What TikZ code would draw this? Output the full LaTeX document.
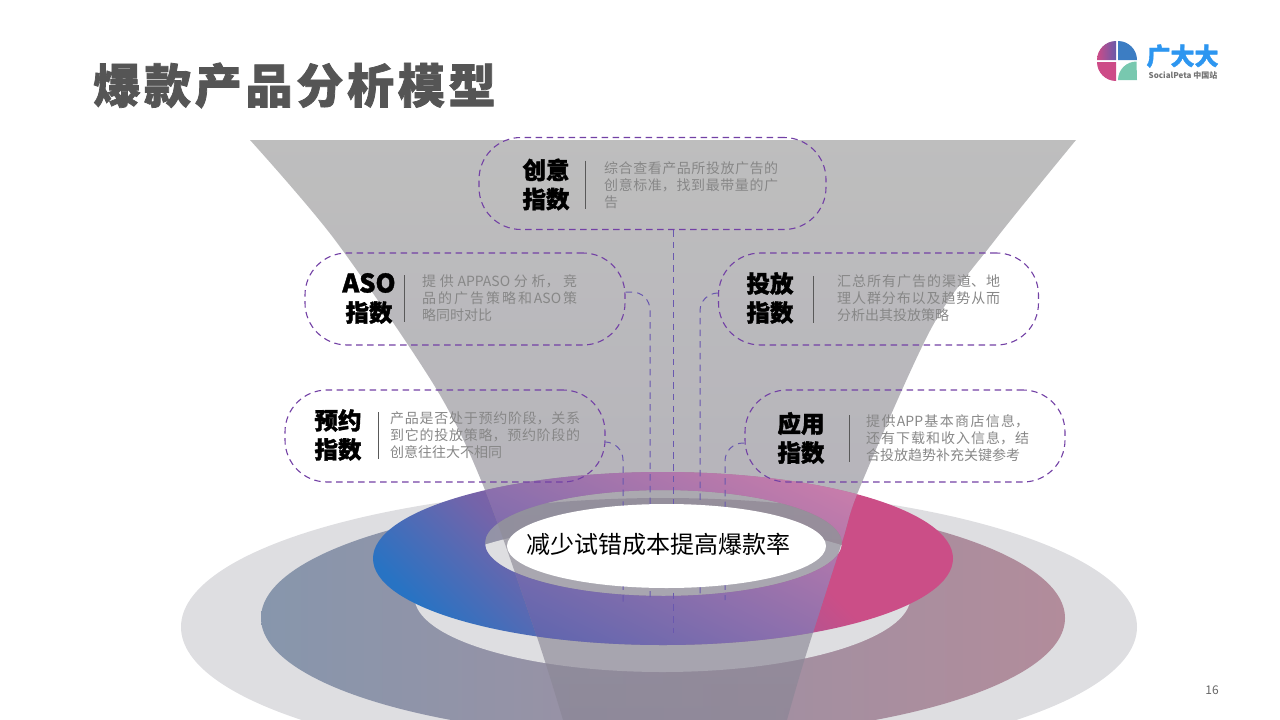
\documentclass[tikz,border=0pt]{standalone}
\usepackage{fontspec}
\setmainfont{Noto Sans CJK SC}
\newfontfamily\heavyfont[FakeBold=1.5]{Noto Sans CJK SC}
\newfontfamily\titlefont[FakeBold=1.6,LetterSpace=8]{Noto Sans CJK SC}
\XeTeXlinebreaklocale "zh"
\XeTeXlinebreakskip=0pt plus 3pt
\usetikzlibrary{calc,shapes.geometric,positioning}
\definecolor{ringgray}{RGB}{222,222,225}
\definecolor{pillline}{RGB}{115,65,165}
\definecolor{bodygray}{RGB}{135,135,135}
\definecolor{dashblue}{RGB}{105,88,175}
\definecolor{midleft}{RGB}{135,150,172}
\definecolor{midright}{RGB}{178,140,155}
\definecolor{donutblue}{RGB}{40,115,195}
\definecolor{donutmid}{RGB}{115,100,170}
\definecolor{donutpink}{RGB}{203,78,135}
\definecolor{veillow}{RGB}{65,95,175}
\definecolor{veilhigh}{RGB}{225,130,170}
\definecolor{funneltop}{RGB}{158,158,158}
\definecolor{funnelbot}{RGB}{138,134,150}
\definecolor{titlegray}{RGB}{85,85,85}
\definecolor{logopink}{RGB}{205,75,135}
\definecolor{logopurple}{RGB}{105,90,170}
\definecolor{logoblue}{RGB}{60,125,195}
\definecolor{logoteal}{RGB}{120,200,175}
\definecolor{logotext}{RGB}{45,150,240}
\pgfdeclarehorizontalshading{donutfill}{100bp}{color(0bp)=(donutblue); color(37bp)=(donutblue); color(44bp)=(donutmid); color(56bp)=(donutpink); color(100bp)=(donutpink)}
\pgfdeclarehorizontalshading{veilfill}{100bp}{color(0bp)=(veillow); color(37bp)=(veillow); color(63bp)=(veilhigh); color(100bp)=(veilhigh)}
\newcommand{\funnelshape}{plot[smooth] coordinates {(250,140) (335,240) (437,390) (485,490) (537,637) (563,720)}
	-- plot[smooth] coordinates {(787,720) (805,658) (842,542) (860,487) (932,327) (995,240) (1076,140)} -- cycle}
\newcommand{\donutshape}{(663,558.5) ellipse [x radius=290, y radius=86.5] (663.5,543) ellipse [x radius=178.5, y radius=53]}
\tikzset{
	pill/.style={draw=pillline, line width=1.1pt, dash pattern=on 6.5pt off 4.5pt,
		rounded corners=42pt, minimum width=320pt, minimum height=92pt, inner sep=0pt},
	headtext/.style={align=center, inner sep=0pt, text=black,
		font=\heavyfont\bfseries\fontsize{23.5pt}{29pt}\selectfont},
	bodytext/.style={anchor=west, inner sep=0pt, align=justify, text=bodygray,
		font=\fontsize{14pt}{17pt}\selectfont},
	divider/.style={draw=black!65, line width=1pt},
	feed/.style={draw=dashblue, line width=1pt, dash pattern=on 6.5pt off 5.2pt, rounded corners=18pt}
}
\begin{document}
\begin{tikzpicture}[x=1pt,y=-1pt]
\useasboundingbox (0,0) rectangle (1280,720);

% rings
\fill[ringgray] (659,627) ellipse [x radius=478, y radius=140];
\shade[left color=midleft, right color=midright]
	(663,618) ellipse [x radius=402, y radius=120];
\fill[ringgray] (662.5,597) ellipse [x radius=248, y radius=75];
\begin{scope}[even odd rule]
\clip \donutshape;
\shade[shading=donutfill, shading angle=45] (263,158.5) rectangle (1063,958.5);
\end{scope}

% funnel
\shade[top color=funneltop, bottom color=funnelbot, opacity=.67] \funnelshape;

% donut seen through the funnel
\begin{scope}
\clip \funnelshape;
\begin{scope}[even odd rule]
\clip \donutshape;
\shade[shading=veilfill, shading angle=64] (263,158.5) rectangle (1063,958.5);
\end{scope}
\end{scope}

% pills
\node[pill, minimum width=347pt] (idea) at (652.5,183.5) {};
\node[pill] (aso) at (465,299) {};
\node[pill] (put) at (878.5,299) {};
\node[pill] (book) at (445,436) {};
\node[pill] (app) at (905,436) {};

% connectors
\coordinate (ideaend) at (673,633);
\coordinate (asoend) at (650,597);
\coordinate (putend) at (700,597);
\coordinate (bookend) at (623,602);
\coordinate (append) at (725,600);
\draw[feed] (idea.south -| ideaend) -- (ideaend);
\draw[feed] ([yshift=7pt]aso.east) -| (asoend);
\draw[feed] ([yshift=6pt]put.west) -| (putend);
\draw[feed] ([yshift=-6pt]book.east) -| (bookend);
\draw[feed] ([yshift=-7pt]app.west) -| (append);

% headings, rules and texts
\node[headtext] (ideahead) at (546,184.5) {创意\\指数};
\draw[divider] ($(idea.west)+(107,-23)$) coordinate (ideatop) -- ($(idea.west)+(107,25)$) coordinate (ideabot);
\node[bodytext, text width=174pt] (ideatext) at (604,185) {综合查看产品所投放广告的创意标准，找到最带量的广告};

\node[headtext] (asohead) at (369,298.5) {{\fontsize{25.5pt}{29pt}\selectfont ASO}\\指数};
\draw[divider] ($(aso.west)+(100,-24)$) coordinate (asotop) -- ($(aso.west)+(100,23)$) coordinate (asobot);
\node[bodytext, text width=155pt] (asotext) at (422,298) {提供APPASO分析，竞\linebreak 品的广告策略和ASO策\linebreak 略同时对比};

\node[headtext] (puthead) at (770,298) {投放\\指数};
\draw[divider] ($(put.west)+(95.5,-23)$) coordinate (puttop) -- ($(put.west)+(95.5,24)$) coordinate (putbot);
\node[bodytext, text width=163pt] (puttext) at (837,298) {汇总所有广告的渠道、地理人群分布以及趋势从而分析出其投放策略};

\node[headtext] (bookhead) at (338,435) {预约\\指数};
\draw[divider] ($(book.west)+(94,-24)$) coordinate (booktop) -- ($(book.west)+(94,23)$) coordinate (bookbot);
\node[bodytext, text width=190pt] (booktext) at (390,435) {产品是否处于预约阶段，关系到它的投放策略，预约阶段的创意往往大不相同};

\node[headtext] (apphead) at (801,438) {应用\\指数};
\draw[divider] ($(app.west)+(105,-21)$) coordinate (apptop) -- ($(app.west)+(105,26)$) coordinate (appbot);
\node[bodytext, text width=163pt] (apptext) at (866,438) {提供APP基本商店信息，还有下载和收入信息，结合投放趋势补充关键参考};

% centre
\node[ellipse, fill=white, minimum width=319pt, minimum height=84pt, inner sep=0pt] (goal) at (666.5,546) {};
\node[inner sep=0pt, font=\fontsize{24pt}{29pt}\selectfont] (goaltext) at (658.5,544) {减少试错成本提高爆款率};

% title and page number
\node[inner sep=0pt, text=titlegray, font=\titlefont\bfseries\fontsize{47pt}{50pt}\selectfont] (title) at (294.5,85.5) {爆款产品分析模型};
\node[inner sep=0pt, text=black!60, font=\fontsize{12pt}{14pt}\selectfont] (pageno) at (1212,690) {16};

% logo
\shade[left color=logopink, right color=logopurple]
	(1116,60) -- (1097,60) arc [start angle=180, end angle=270, radius=19] -- cycle;
\fill[logoblue] (1118,60) -- (1118,41) arc [start angle=270, end angle=360, radius=19] -- cycle;
\fill[logopink] (1116,62) -- (1097,62) arc [start angle=180, end angle=90, radius=19] -- cycle;
\fill[logoteal] (1137,80) -- (1118,80) arc [start angle=180, end angle=270, radius=18.5] -- cycle;
\node[inner sep=0pt, text=logotext, font=\heavyfont\bfseries\fontsize{24pt}{26pt}\selectfont] (logoname) at (1182.5,56) {广大大};
\node[inner sep=0pt, text=black!55, font=\bfseries\fontsize{8pt}{9pt}\selectfont] (logosub) at (1183,75) {SocialPeta 中国站};
\end{tikzpicture}
\end{document}
